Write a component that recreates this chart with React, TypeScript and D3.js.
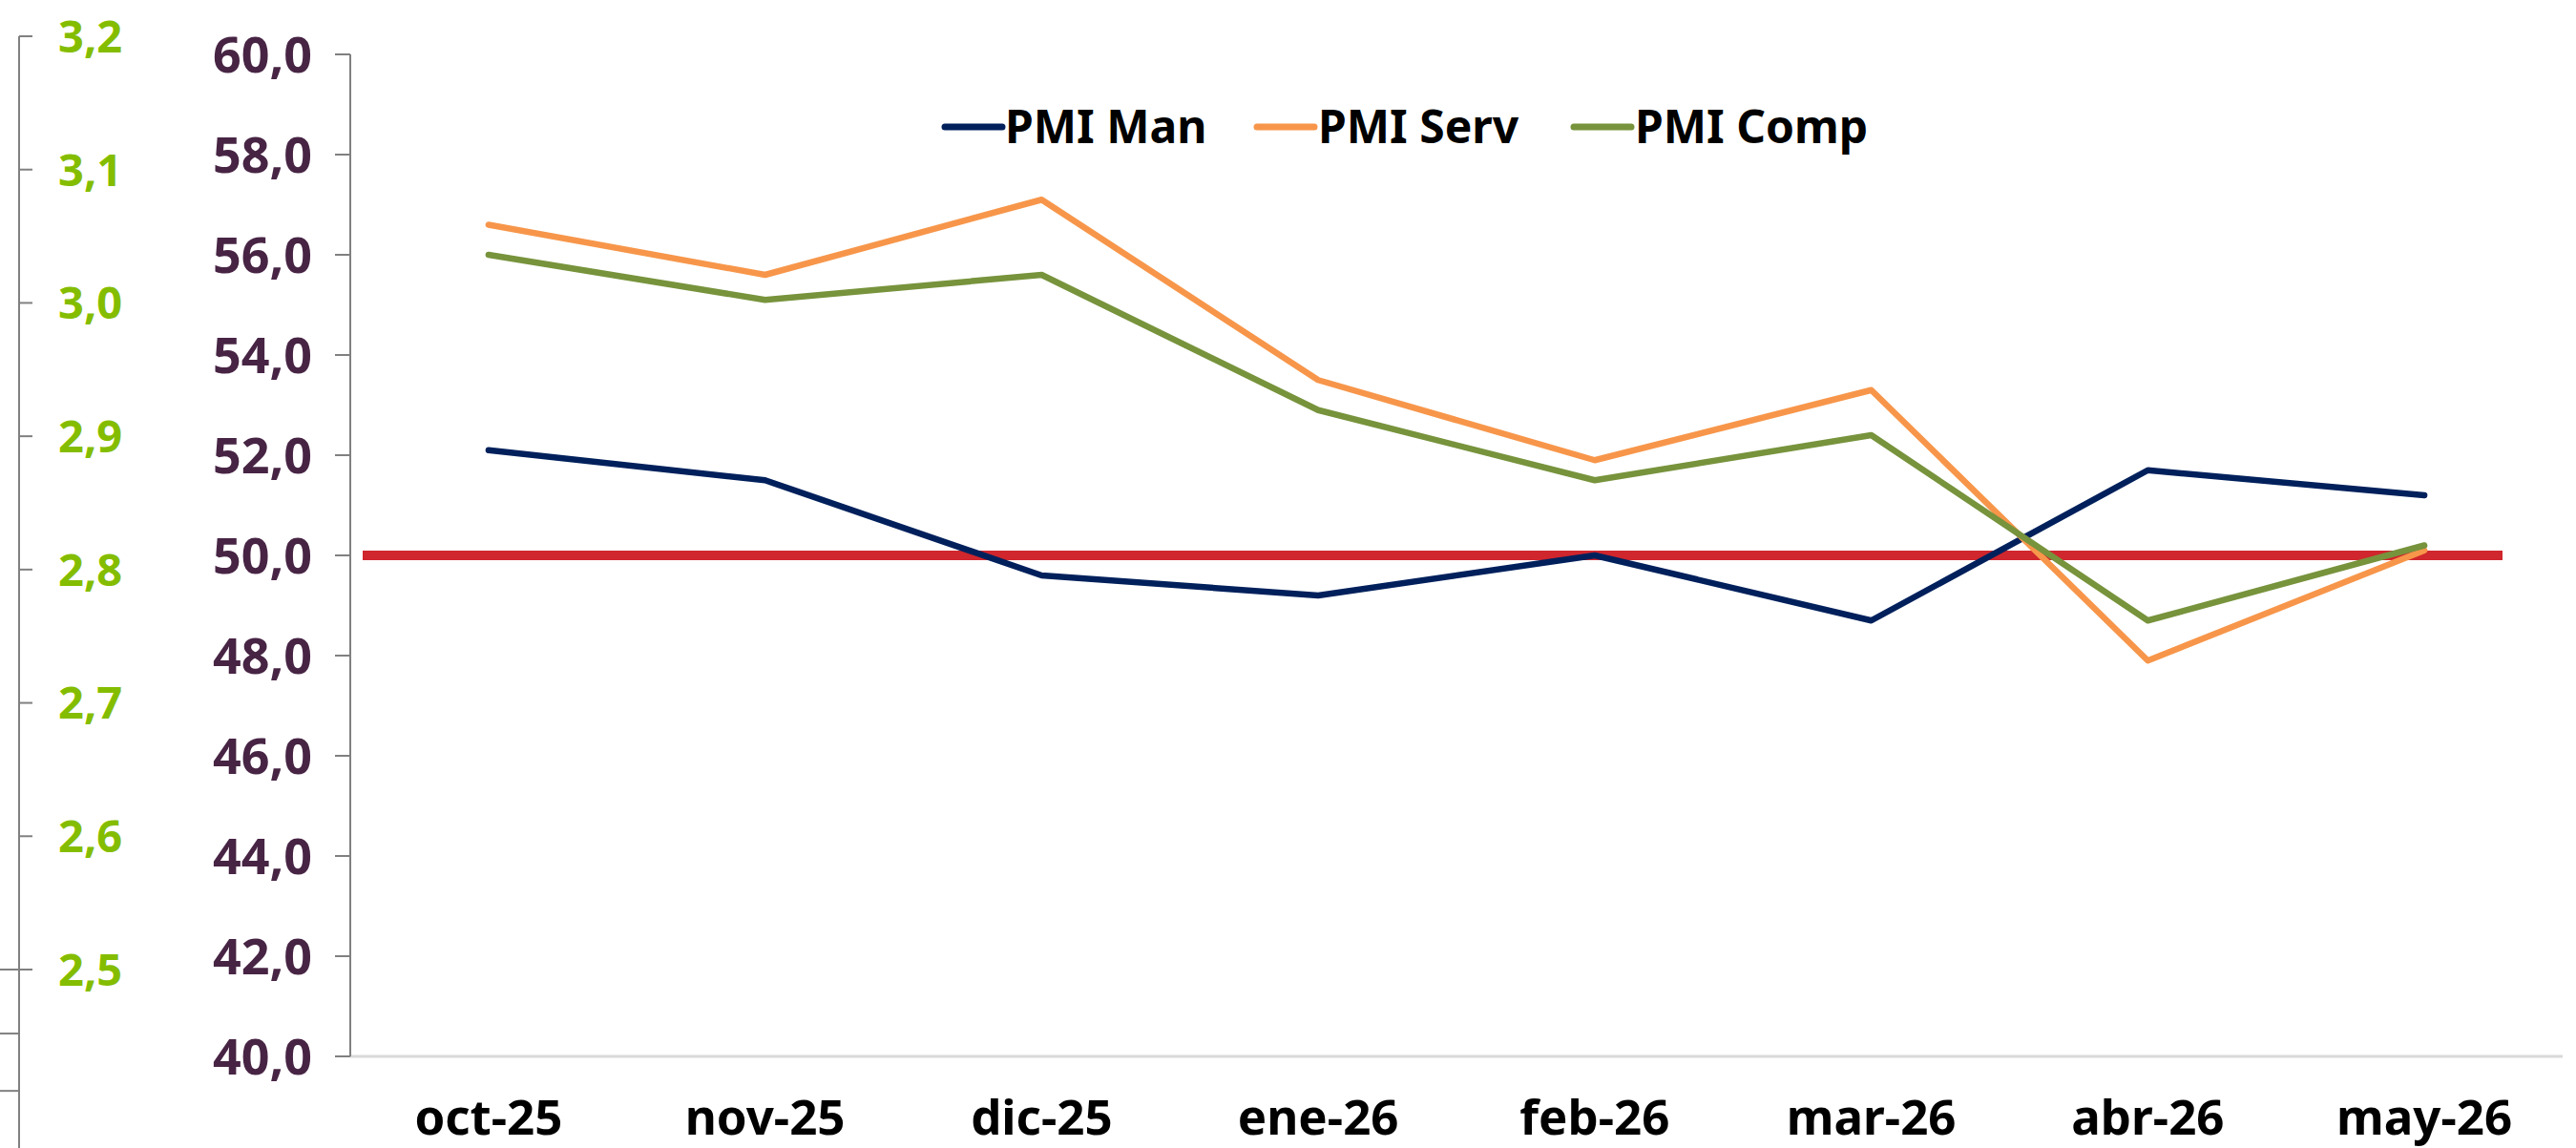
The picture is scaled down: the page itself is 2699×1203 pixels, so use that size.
import React from "react";
import * as d3 from "d3";

const categories = ["oct-25", "nov-25", "dic-25", "ene-26", "feb-26", "mar-26", "abr-26", "may-26"];
const pmiMan = [52.1, 51.5, 49.6, 49.2, 50.0, 48.7, 51.7, 51.2];
const pmiServ = [56.6, 55.6, 57.1, 53.5, 51.9, 53.3, 47.9, 50.1];
const pmiComp = [56.0, 55.1, 55.6, 52.9, 51.5, 52.4, 48.7, 50.2];
const threshold = 50;
const mainTicks = [40, 42, 44, 46, 48, 50, 52, 54, 56, 58, 60];
const leftTicks = [2.5, 2.6, 2.7, 2.8, 2.9, 3.0, 3.1, 3.2];
const leftExtraTicks = [2.452, 2.409];

const series = [
  { name: "PMI Man", values: pmiMan, color: "#00205C" },
  { name: "PMI Serv", values: pmiServ, color: "#F7964A" },
  { name: "PMI Comp", values: pmiComp, color: "#77933C" },
];

const W = 2699;
const H = 1203;

export default function App() {
  const axisX = 367;
  const x = d3.scaleBand<string>().domain(categories).range([axisX, 2685]);
  const y = d3.scaleLinear().domain([40, 60]).range([1107, 57]);
  const yL = d3.scaleLinear().domain([2.5, 3.2]).range([1016, 38]);
  const cx = (c: string) => (x(c) as number) + x.bandwidth() / 2;
  const line = d3
    .line<number>()
    .x((_, i) => cx(categories[i]))
    .y((d) => y(d));
  const fmt = (v: number) => v.toFixed(1).replace(".", ",");
  const leftAxisX = 20;
  const legendItems = [
    { lx: 990, tx: 1053 },
    { lx: 1317, tx: 1381 },
    { lx: 1649, tx: 1713 },
  ];
  return (
    <div style={{ position: "absolute", left: 0, top: 0 }}>
      <svg width={W} height={H} style={{ display: "block", background: "#fff" }}>
        {/* left secondary axis */}
        <line x1={leftAxisX} x2={leftAxisX} y1={yL(3.2)} y2={H} stroke="#808080" strokeWidth={2} />
        {leftTicks.map((t) => (
          <g key={t}>
            <line
              x1={t === 2.5 ? 0 : leftAxisX}
              x2={leftAxisX + 14}
              y1={yL(t)}
              y2={yL(t)}
              stroke="#808080"
              strokeWidth={2}
            />
            <text
              x={61}
              y={yL(t)}
              dy="0.36em"
              fontFamily="'Noto Sans', sans-serif"
              fontWeight={700}
              fontSize={47}
              fill="#84BD00"
            >
              {fmt(t)}
            </text>
          </g>
        ))}
        {leftExtraTicks.map((t) => (
          <line key={t} x1={0} x2={leftAxisX} y1={yL(t)} y2={yL(t)} stroke="#808080" strokeWidth={2} />
        ))}
        {/* x axis line */}
        <line x1={axisX} x2={2685} y1={y(40)} y2={y(40)} stroke="#D9D9D9" strokeWidth={3} />
        {/* main y axis */}
        <line x1={axisX} x2={axisX} y1={y(60)} y2={y(40)} stroke="#808080" strokeWidth={2} />
        {mainTicks.map((t) => (
          <g key={t}>
            <line x1={axisX - 16} x2={axisX} y1={y(t)} y2={y(t)} stroke="#808080" strokeWidth={2} />
            <text
              x={327}
              y={y(t)}
              dy="0.36em"
              textAnchor="end"
              fontFamily="'Noto Sans', sans-serif"
              fontWeight={700}
              fontSize={52}
              fill="#472444"
            >
              {fmt(t)}
            </text>
          </g>
        ))}
        {/* category labels */}
        {categories.map((c) => (
          <text
            key={c}
            x={cx(c)}
            y={1171}
            dy="0.36em"
            textAnchor="middle"
            fontFamily="'Noto Sans', sans-serif"
            fontWeight={700}
            fontSize={51}
            fill="#000"
          >
            {c}
          </text>
        ))}
        {/* threshold line */}
        <line x1={380} x2={2622} y1={y(threshold)} y2={y(threshold)} stroke="#D0262D" strokeWidth={10} />
        {/* series */}
        {series.map((s) => (
          <path
            key={s.name}
            d={line(s.values) as string}
            fill="none"
            stroke={s.color}
            strokeWidth={6.5}
            strokeLinecap="round"
            strokeLinejoin="round"
          />
        ))}
        {/* legend */}
        {series.map((s, i) => (
          <g key={s.name}>
            <line
              x1={legendItems[i].lx}
              x2={legendItems[i].lx + 60}
              y1={133}
              y2={133}
              stroke={s.color}
              strokeWidth={7}
              strokeLinecap="round"
            />
            <text
              x={legendItems[i].tx}
              y={133}
              dy="0.36em"
              fontFamily="'Noto Sans', sans-serif"
              fontWeight={700}
              fontSize={48}
              fill="#000"
            >
              {s.name}
            </text>
          </g>
        ))}
      </svg>
    </div>
  );
}
